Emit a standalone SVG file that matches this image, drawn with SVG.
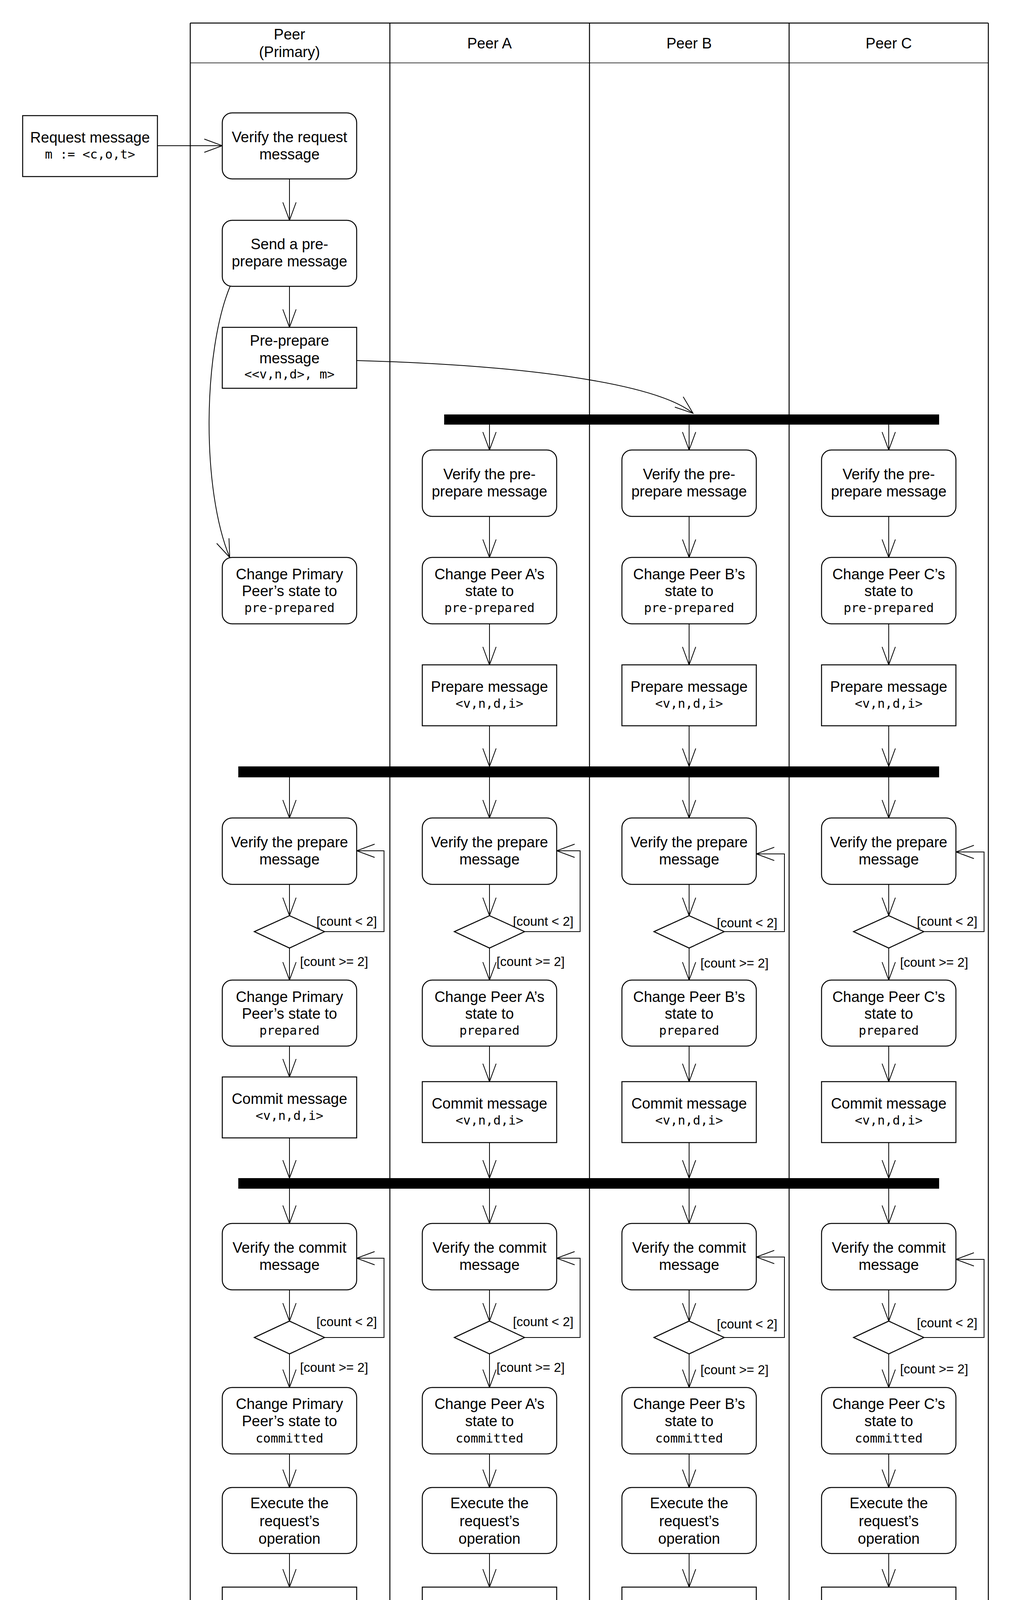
<svg xmlns="http://www.w3.org/2000/svg" width="2588" height="4424" viewBox="0 0 2588 4424">
<style>
.bg{fill:#fff}
.ln{stroke:#000;stroke-width:2.5;fill:none}
.hd{stroke:#000;stroke-width:1.5;fill:none}
.box{fill:#fff;stroke:#000;stroke-width:2.5}
.t{font-family:"Liberation Sans",Arial,sans-serif;font-size:38px;text-anchor:middle;fill:#000}
.m{font-family:"DejaVu Sans Mono","Liberation Mono",monospace;font-size:32px}
.lbl{font-family:"Liberation Sans",Arial,sans-serif;font-size:33px;fill:#000}
.c{stroke:#000;stroke-width:2;fill:none;marker-end:url(#a)}
.bar{fill:#000}
</style>
<defs>
<marker id="a" markerUnits="userSpaceOnUse" viewBox="-50 -20 54 40" refX="0" refY="0" markerWidth="54" markerHeight="40" orient="auto" overflow="visible">
<path d="M-46,-17 L0,0 L-46,17" fill="none" stroke="#000" stroke-width="2"/>
</marker>
</defs>
<rect class="bg" x="0" y="0" width="2588" height="4424"/>

<g id="pool">
<line class="ln" x1="487" y1="59" x2="2530" y2="59"/>
<line class="hd" x1="487" y1="161" x2="2530" y2="161"/>
<line class="ln" x1="487" y1="59" x2="487" y2="4366"/>
<line class="ln" x1="998" y1="59" x2="998" y2="4366"/>
<line class="ln" x1="1509" y1="59" x2="1509" y2="4366"/>
<line class="ln" x1="2020" y1="59" x2="2020" y2="4366"/>
<line class="ln" x1="2530" y1="59" x2="2530" y2="4366"/>
<text class="t"><tspan x="741" y="101">Peer</tspan><tspan x="741" y="146">(Primary)</tspan></text>
<text class="t" x="1253" y="124">Peer A</text>
<text class="t" x="1764" y="124">Peer B</text>
<text class="t" x="2275" y="124">Peer C</text>
</g>

<g id="bars">
<rect id="fork1" class="bar" x="1137" y="1061" width="1267" height="26"/>
<rect id="fork2" class="bar" x="610" y="1962" width="1794" height="28"/>
<rect id="fork3" class="bar" x="610" y="3016" width="1794" height="27"/>
</g>

<g id="connectors">
<path class="c" d="M403,373 H569"/>
<path class="c" d="M741,458 V564"/>
<path class="c" d="M741,733 V838"/>
<path class="c" d="M589,733 C520,900 515,1250 588,1427"/>
<path class="c" d="M914,923 C1350,935 1680,982 1774,1058"/>
<path class="c" d="M1253,1087 V1152"/>
<path class="c" d="M1764,1087 V1152"/>
<path class="c" d="M2275,1087 V1152"/>
<path class="c" d="M1253,1322 V1427"/>
<path class="c" d="M1764,1322 V1427"/>
<path class="c" d="M2275,1322 V1427"/>
<path class="c" d="M1253,1597 V1702"/>
<path class="c" d="M1764,1597 V1702"/>
<path class="c" d="M2275,1597 V1702"/>
<path class="c" d="M1253,1858 V1962"/>
<path class="c" d="M1764,1858 V1962"/>
<path class="c" d="M2275,1858 V1962"/>
<path class="c" d="M741,1990 V2094"/>
<path class="c" d="M1253,1990 V2094"/>
<path class="c" d="M1764,1990 V2094"/>
<path class="c" d="M2275,1990 V2094"/>
<path class="c" d="M741,2264 V2344"/>
<path class="c" d="M1253,2264 V2344"/>
<path class="c" d="M1764,2264 V2344"/>
<path class="c" d="M2275,2264 V2344"/>
<path class="c" d="M741,2427 V2509"/>
<path class="c" d="M1253,2427 V2509"/>
<path class="c" d="M1764,2427 V2509"/>
<path class="c" d="M2275,2427 V2509"/>
<path class="c" d="M831,2385 H983 V2178 H913"/>
<path class="c" d="M1343,2385 H1485 V2178 H1425"/>
<path class="c" d="M1854,2385 H2008 V2186 H1936"/>
<path class="c" d="M2365,2385 H2519 V2181 H2447"/>
<path class="c" d="M741,2678 V2757"/>
<path class="c" d="M1253,2678 V2769"/>
<path class="c" d="M1764,2678 V2769"/>
<path class="c" d="M2275,2678 V2769"/>
<path class="c" d="M741,2913 V3016"/>
<path class="c" d="M1253,2925 V3016"/>
<path class="c" d="M1764,2925 V3016"/>
<path class="c" d="M2275,2925 V3016"/>
<path class="c" d="M741,3043 V3132"/>
<path class="c" d="M1253,3043 V3132"/>
<path class="c" d="M1764,3043 V3132"/>
<path class="c" d="M2275,3043 V3132"/>
<path class="c" d="M741,3302 V3382"/>
<path class="c" d="M1253,3302 V3382"/>
<path class="c" d="M1764,3302 V3382"/>
<path class="c" d="M2275,3302 V3382"/>
<path class="c" d="M741,3466 V3552"/>
<path class="c" d="M1253,3466 V3552"/>
<path class="c" d="M1764,3466 V3552"/>
<path class="c" d="M2275,3466 V3552"/>
<path class="c" d="M831,3424 H983 V3221 H913"/>
<path class="c" d="M1343,3424 H1485 V3221 H1425"/>
<path class="c" d="M1854,3424 H2008 V3218 H1936"/>
<path class="c" d="M2365,3424 H2519 V3224 H2447"/>
<path class="c" d="M741,3722 V3808"/>
<path class="c" d="M1253,3722 V3808"/>
<path class="c" d="M1764,3722 V3808"/>
<path class="c" d="M2275,3722 V3808"/>
<path class="c" d="M741,3977 V4063"/>
<path class="c" d="M1253,3977 V4063"/>
<path class="c" d="M1764,3977 V4063"/>
<path class="c" d="M2275,3977 V4063"/>
<text class="lbl" x="810" y="2370">[count &lt; 2]</text>
<text class="lbl" x="768" y="2473">[count &gt;= 2]</text>
<text class="lbl" x="1313" y="2370">[count &lt; 2]</text>
<text class="lbl" x="1271" y="2473">[count &gt;= 2]</text>
<text class="lbl" x="1835" y="2374">[count &lt; 2]</text>
<text class="lbl" x="1793" y="2477">[count &gt;= 2]</text>
<text class="lbl" x="2347" y="2370">[count &lt; 2]</text>
<text class="lbl" x="2304" y="2475">[count &gt;= 2]</text>
<text class="lbl" x="810" y="3395">[count &lt; 2]</text>
<text class="lbl" x="768" y="3512">[count &gt;= 2]</text>
<text class="lbl" x="1313" y="3395">[count &lt; 2]</text>
<text class="lbl" x="1271" y="3512">[count &gt;= 2]</text>
<text class="lbl" x="1835" y="3401">[count &lt; 2]</text>
<text class="lbl" x="1793" y="3518">[count &gt;= 2]</text>
<text class="lbl" x="2347" y="3398">[count &lt; 2]</text>
<text class="lbl" x="2304" y="3516">[count &gt;= 2]</text>
</g>

<g id="request_message"><rect class="box" x="58" y="296" width="345" height="156"/>
<text class="t"><tspan x="230.5" y="365">Request message</tspan><tspan class="m" x="230.5" y="406">m := &lt;c,o,t&gt;</tspan></text></g>

<!-- Primary lane -->
<g id="p_verify_request"><rect class="box" x="569" y="289" width="344" height="169" rx="25"/>
<text class="t"><tspan x="741" y="364">Verify the request</tspan><tspan x="741" y="408">message</tspan></text></g>
<g id="p_send_preprepare"><rect class="box" x="569" y="564" width="344" height="169" rx="25"/>
<text class="t"><tspan x="741" y="638">Send a pre-</tspan><tspan x="741" y="682">prepare message</tspan></text></g>
<g id="p_preprepare_message"><rect class="box" x="569" y="838" width="344" height="156"/>
<text class="t"><tspan x="741" y="885">Pre-prepare</tspan><tspan x="741" y="930">message</tspan><tspan class="m" x="741" y="969">&lt;&lt;v,n,d&gt;, m&gt;</tspan></text></g>
<g id="p_change_preprepared"><rect class="box" x="569" y="1427" width="344" height="170" rx="25"/>
<text class="t"><tspan x="741" y="1483">Change Primary</tspan><tspan x="741" y="1526">Peer’s state to</tspan><tspan class="m" x="741" y="1567">pre-prepared</tspan></text></g>
<g id="p_verify_prepare"><rect class="box" x="569" y="2094" width="344" height="170" rx="25"/>
<text class="t"><tspan x="741" y="2169">Verify the prepare</tspan><tspan x="741" y="2213">message</tspan></text></g>
<g id="p_decision_prepare"><polygon class="box" points="651,2385 741,2344 831,2385 741,2427"/></g>
<g id="p_change_prepared"><rect class="box" x="569" y="2509" width="344" height="169" rx="25"/>
<text class="t"><tspan x="741" y="2565">Change Primary</tspan><tspan x="741" y="2608">Peer’s state to</tspan><tspan class="m" x="741" y="2649">prepared</tspan></text></g>
<g id="p_commit_message"><rect class="box" x="569" y="2757" width="344" height="156"/>
<text class="t"><tspan x="741" y="2826">Commit message</tspan><tspan class="m" x="741" y="2867">&lt;v,n,d,i&gt;</tspan></text></g>
<g id="p_verify_commit"><rect class="box" x="569" y="3132" width="344" height="170" rx="25"/>
<text class="t"><tspan x="741" y="3207">Verify the commit</tspan><tspan x="741" y="3251">message</tspan></text></g>
<g id="p_decision_commit"><polygon class="box" points="651,3424 741,3382 831,3424 741,3466"/></g>
<g id="p_change_committed"><rect class="box" x="569" y="3552" width="344" height="170" rx="25"/>
<text class="t"><tspan x="741" y="3607">Change Primary</tspan><tspan x="741" y="3651">Peer’s state to</tspan><tspan class="m" x="741" y="3693">committed</tspan></text></g>
<g id="p_execute"><rect class="box" x="569" y="3808" width="344" height="169" rx="25"/>
<text class="t"><tspan x="741" y="3861">Execute the</tspan><tspan x="741" y="3907">request’s</tspan><tspan x="741" y="3952">operation</tspan></text></g>
<g id="p_reply_message"><rect class="box" x="569" y="4063" width="344" height="156"/>
<text class="t"><tspan x="741" y="4132">Reply message</tspan><tspan class="m" x="741" y="4172">&lt;v,t,c,i,r&gt;</tspan></text></g>

<!-- Peer A lane -->
<g id="a_verify_preprepare"><rect class="box" x="1081" y="1152" width="344" height="170" rx="25"/>
<text class="t"><tspan x="1253" y="1227">Verify the pre-</tspan><tspan x="1253" y="1271">prepare message</tspan></text></g>
<g id="a_change_preprepared"><rect class="box" x="1081" y="1427" width="344" height="170" rx="25"/>
<text class="t"><tspan x="1253" y="1483">Change Peer A’s</tspan><tspan x="1253" y="1526">state to</tspan><tspan class="m" x="1253" y="1567">pre-prepared</tspan></text></g>
<g id="a_prepare_message"><rect class="box" x="1081" y="1702" width="344" height="156"/>
<text class="t"><tspan x="1253" y="1771">Prepare message</tspan><tspan class="m" x="1253" y="1812">&lt;v,n,d,i&gt;</tspan></text></g>
<g id="a_verify_prepare"><rect class="box" x="1081" y="2094" width="344" height="170" rx="25"/>
<text class="t"><tspan x="1253" y="2169">Verify the prepare</tspan><tspan x="1253" y="2213">message</tspan></text></g>
<g id="a_decision_prepare"><polygon class="box" points="1163,2385 1253,2344 1343,2385 1253,2427"/></g>
<g id="a_change_prepared"><rect class="box" x="1081" y="2509" width="344" height="169" rx="25"/>
<text class="t"><tspan x="1253" y="2565">Change Peer A’s</tspan><tspan x="1253" y="2608">state to</tspan><tspan class="m" x="1253" y="2649">prepared</tspan></text></g>
<g id="a_commit_message"><rect class="box" x="1081" y="2769" width="344" height="156"/>
<text class="t"><tspan x="1253" y="2838">Commit message</tspan><tspan class="m" x="1253" y="2879">&lt;v,n,d,i&gt;</tspan></text></g>
<g id="a_verify_commit"><rect class="box" x="1081" y="3132" width="344" height="170" rx="25"/>
<text class="t"><tspan x="1253" y="3207">Verify the commit</tspan><tspan x="1253" y="3251">message</tspan></text></g>
<g id="a_decision_commit"><polygon class="box" points="1163,3424 1253,3382 1343,3424 1253,3466"/></g>
<g id="a_change_committed"><rect class="box" x="1081" y="3552" width="344" height="170" rx="25"/>
<text class="t"><tspan x="1253" y="3607">Change Peer A’s</tspan><tspan x="1253" y="3651">state to</tspan><tspan class="m" x="1253" y="3693">committed</tspan></text></g>
<g id="a_execute"><rect class="box" x="1081" y="3808" width="344" height="169" rx="25"/>
<text class="t"><tspan x="1253" y="3861">Execute the</tspan><tspan x="1253" y="3907">request’s</tspan><tspan x="1253" y="3952">operation</tspan></text></g>
<g id="a_reply_message"><rect class="box" x="1081" y="4063" width="344" height="156"/>
<text class="t"><tspan x="1253" y="4132">Reply message</tspan><tspan class="m" x="1253" y="4172">&lt;v,t,c,i,r&gt;</tspan></text></g>

<!-- Peer B lane -->
<g id="b_verify_preprepare"><rect class="box" x="1592" y="1152" width="344" height="170" rx="25"/>
<text class="t"><tspan x="1764" y="1227">Verify the pre-</tspan><tspan x="1764" y="1271">prepare message</tspan></text></g>
<g id="b_change_preprepared"><rect class="box" x="1592" y="1427" width="344" height="170" rx="25"/>
<text class="t"><tspan x="1764" y="1483">Change Peer B’s</tspan><tspan x="1764" y="1526">state to</tspan><tspan class="m" x="1764" y="1567">pre-prepared</tspan></text></g>
<g id="b_prepare_message"><rect class="box" x="1592" y="1702" width="344" height="156"/>
<text class="t"><tspan x="1764" y="1771">Prepare message</tspan><tspan class="m" x="1764" y="1812">&lt;v,n,d,i&gt;</tspan></text></g>
<g id="b_verify_prepare"><rect class="box" x="1592" y="2094" width="344" height="170" rx="25"/>
<text class="t"><tspan x="1764" y="2169">Verify the prepare</tspan><tspan x="1764" y="2213">message</tspan></text></g>
<g id="b_decision_prepare"><polygon class="box" points="1674,2385 1764,2344 1854,2385 1764,2427"/></g>
<g id="b_change_prepared"><rect class="box" x="1592" y="2509" width="344" height="169" rx="25"/>
<text class="t"><tspan x="1764" y="2565">Change Peer B’s</tspan><tspan x="1764" y="2608">state to</tspan><tspan class="m" x="1764" y="2649">prepared</tspan></text></g>
<g id="b_commit_message"><rect class="box" x="1592" y="2769" width="344" height="156"/>
<text class="t"><tspan x="1764" y="2838">Commit message</tspan><tspan class="m" x="1764" y="2879">&lt;v,n,d,i&gt;</tspan></text></g>
<g id="b_verify_commit"><rect class="box" x="1592" y="3132" width="344" height="170" rx="25"/>
<text class="t"><tspan x="1764" y="3207">Verify the commit</tspan><tspan x="1764" y="3251">message</tspan></text></g>
<g id="b_decision_commit"><polygon class="box" points="1674,3424 1764,3382 1854,3424 1764,3466"/></g>
<g id="b_change_committed"><rect class="box" x="1592" y="3552" width="344" height="170" rx="25"/>
<text class="t"><tspan x="1764" y="3607">Change Peer B’s</tspan><tspan x="1764" y="3651">state to</tspan><tspan class="m" x="1764" y="3693">committed</tspan></text></g>
<g id="b_execute"><rect class="box" x="1592" y="3808" width="344" height="169" rx="25"/>
<text class="t"><tspan x="1764" y="3861">Execute the</tspan><tspan x="1764" y="3907">request’s</tspan><tspan x="1764" y="3952">operation</tspan></text></g>
<g id="b_reply_message"><rect class="box" x="1592" y="4063" width="344" height="156"/>
<text class="t"><tspan x="1764" y="4132">Reply message</tspan><tspan class="m" x="1764" y="4172">&lt;v,t,c,i,r&gt;</tspan></text></g>

<!-- Peer C lane -->
<g id="c_verify_preprepare"><rect class="box" x="2103" y="1152" width="344" height="170" rx="25"/>
<text class="t"><tspan x="2275" y="1227">Verify the pre-</tspan><tspan x="2275" y="1271">prepare message</tspan></text></g>
<g id="c_change_preprepared"><rect class="box" x="2103" y="1427" width="344" height="170" rx="25"/>
<text class="t"><tspan x="2275" y="1483">Change Peer C’s</tspan><tspan x="2275" y="1526">state to</tspan><tspan class="m" x="2275" y="1567">pre-prepared</tspan></text></g>
<g id="c_prepare_message"><rect class="box" x="2103" y="1702" width="344" height="156"/>
<text class="t"><tspan x="2275" y="1771">Prepare message</tspan><tspan class="m" x="2275" y="1812">&lt;v,n,d,i&gt;</tspan></text></g>
<g id="c_verify_prepare"><rect class="box" x="2103" y="2094" width="344" height="170" rx="25"/>
<text class="t"><tspan x="2275" y="2169">Verify the prepare</tspan><tspan x="2275" y="2213">message</tspan></text></g>
<g id="c_decision_prepare"><polygon class="box" points="2185,2385 2275,2344 2365,2385 2275,2427"/></g>
<g id="c_change_prepared"><rect class="box" x="2103" y="2509" width="344" height="169" rx="25"/>
<text class="t"><tspan x="2275" y="2565">Change Peer C’s</tspan><tspan x="2275" y="2608">state to</tspan><tspan class="m" x="2275" y="2649">prepared</tspan></text></g>
<g id="c_commit_message"><rect class="box" x="2103" y="2769" width="344" height="156"/>
<text class="t"><tspan x="2275" y="2838">Commit message</tspan><tspan class="m" x="2275" y="2879">&lt;v,n,d,i&gt;</tspan></text></g>
<g id="c_verify_commit"><rect class="box" x="2103" y="3132" width="344" height="170" rx="25"/>
<text class="t"><tspan x="2275" y="3207">Verify the commit</tspan><tspan x="2275" y="3251">message</tspan></text></g>
<g id="c_decision_commit"><polygon class="box" points="2185,3424 2275,3382 2365,3424 2275,3466"/></g>
<g id="c_change_committed"><rect class="box" x="2103" y="3552" width="344" height="170" rx="25"/>
<text class="t"><tspan x="2275" y="3607">Change Peer C’s</tspan><tspan x="2275" y="3651">state to</tspan><tspan class="m" x="2275" y="3693">committed</tspan></text></g>
<g id="c_execute"><rect class="box" x="2103" y="3808" width="344" height="169" rx="25"/>
<text class="t"><tspan x="2275" y="3861">Execute the</tspan><tspan x="2275" y="3907">request’s</tspan><tspan x="2275" y="3952">operation</tspan></text></g>
<g id="c_reply_message"><rect class="box" x="2103" y="4063" width="344" height="156"/>
<text class="t"><tspan x="2275" y="4132">Reply message</tspan><tspan class="m" x="2275" y="4172">&lt;v,t,c,i,r&gt;</tspan></text></g>
</svg>
